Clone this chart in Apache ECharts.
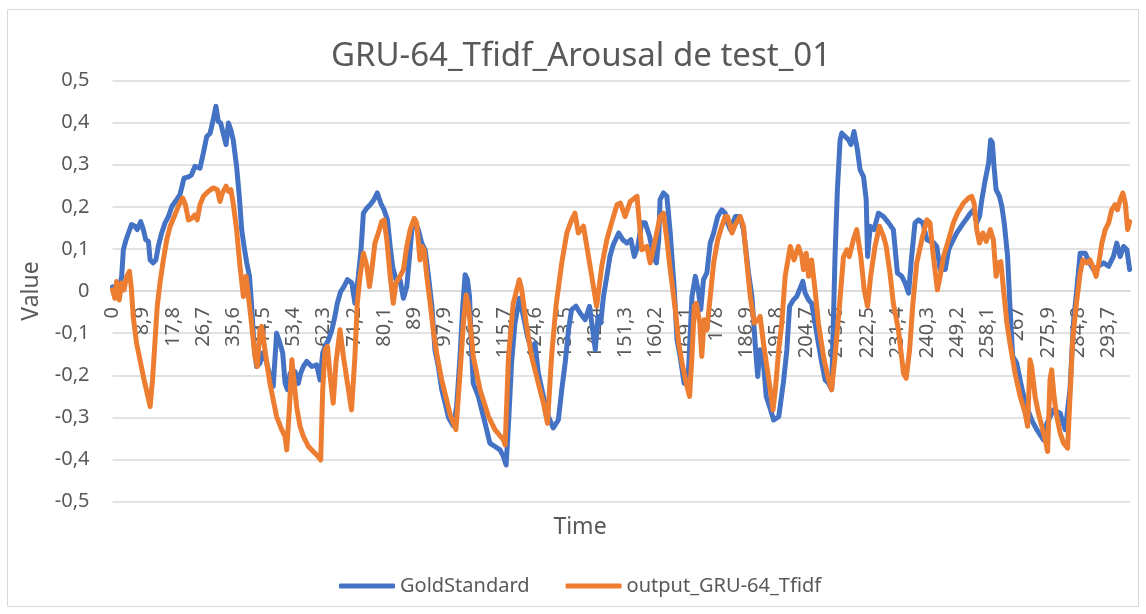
<!DOCTYPE html>
<html>
<head>
<meta charset="utf-8">
<script src="https://cdn.jsdelivr.net/npm/echarts/dist/echarts.min.js"></script>
<style>
html,body{margin:0;padding:0;background:#fff;}
#chart{width:1146px;height:614px;}
</style>
</head>
<body>
<div id="chart"></div>
<script>
// ---- data ----
var chartTitle = 'GRU-64_Tfidf_Arousal de test_01';
var seriesNames = ['GoldStandard', 'output_GRU-64_Tfidf'];

var goldTime = [0,1.0,2.2,2.7,3.2,4.0,4.7,5.6,6.6,7.3,8.3,9.1,9.8,10.6,11.1,12.0,12.8,13.5,14.5,15.5,16.5,17.5,18.9,19.9,21.1,22.4,23.3,24.3,25.8,26.8,27.8,28.8,29.7,30.5,31.2,31.9,32.9,33.5,34.2,34.9,35.6,36.6,37.4,38.1,38.8,39.6,40.4,41.0,41.7,42.5,43.5,44.3,45.0,46.5,47.4,48.4,49.4,50.2,50.9,51.6,52.4,53.8,54.8,55.5,56.3,57.3,58.8,60.2,61.2,62.0,62.7,63.7,64.7,65.6,66.3,67.3,68.3,69.3,70.6,71.5,72.5,73.3,74.0,75.0,76.0,77.1,78.1,79.1,80.1,81.1,81.9,82.6,83.6,84.8,85.8,86.8,87.6,88.3,89.2,90.2,91.2,92.2,93.2,94.2,95.1,96.1,97.1,98.1,99.1,100.5,101.5,102.5,103.3,104.0,104.7,105.3,105.9,106.4,107.9,109.9,111.3,112.8,114.3,115.3,116.1,116.8,117.7,118.7,120.0,121.2,122.4,123.6,124.6,125.6,127.1,128.6,130.0,131.5,132.5,133.5,134.5,135.4,136.7,137.9,139.4,140.7,141.6,142.4,143.2,144.0,144.8,145.8,146.7,147.7,149.3,150.5,151.7,152.9,153.9,154.9,156.1,157.1,158.4,159.6,160.4,161.1,161.5,162.5,163.5,164.5,165.7,166.5,167.4,168.6,169.9,170.9,171.9,172.9,173.5,174.3,175.3,176.3,177.3,178.5,179.7,180.7,181.4,182.2,183.7,185.1,186.1,187.6,188.6,189.6,190.3,191.0,192.0,192.8,193.8,195.0,196.5,197.9,198.9,199.7,200.8,201.8,202.6,203.6,204.3,205.3,206.2,207.2,208.2,209.2,210.2,211.2,212.1,212.6,213.1,213.8,214.6,215.1,216.1,217.1,217.8,218.7,219.7,220.5,221.5,222.3,222.7,223.5,224.6,225.9,227.4,228.9,230.3,231.5,232.8,233.8,234.8,235.7,236.7,237.7,239.0,240.2,242.3,243.1,244.1,245.6,246.6,247.5,249.0,251.0,252.0,253.0,254.0,254.9,255.7,256.4,257.4,258.4,259.0,259.5,260.0,260.6,261.6,262.3,263.0,264.0,264.7,265.5,266.7,267.9,269.2,271.1,272.6,274.6,275.6,277.5,279.5,281.0,282.4,283.4,284.4,285.4,286.9,288.2,289.3,290.8,292.3,293.8,295.2,296.2,297.2,298.2,299.2,300.0];
var goldValue = [0.010,0.000,0.011,0.035,0.098,0.122,0.138,0.158,0.154,0.146,0.165,0.146,0.122,0.118,0.074,0.067,0.074,0.106,0.138,0.162,0.177,0.201,0.217,0.229,0.268,0.271,0.276,0.296,0.292,0.328,0.367,0.375,0.407,0.439,0.403,0.399,0.367,0.348,0.399,0.383,0.359,0.296,0.225,0.146,0.106,0.067,0.035,-0.029,-0.124,-0.179,-0.171,-0.147,-0.155,-0.203,-0.226,-0.100,-0.124,-0.147,-0.219,-0.234,-0.195,-0.191,-0.219,-0.195,-0.179,-0.167,-0.179,-0.175,-0.211,-0.147,-0.131,-0.116,-0.092,-0.060,-0.029,-0.001,0.011,0.027,0.019,-0.029,0.035,0.098,0.185,0.197,0.205,0.217,0.233,0.209,0.193,0.169,0.106,0.059,0.027,0.027,-0.017,0.011,0.082,0.146,0.162,0.146,0.114,0.098,0.035,-0.036,-0.139,-0.179,-0.234,-0.266,-0.300,-0.320,-0.274,-0.155,-0.036,0.039,0.027,-0.013,-0.139,-0.219,-0.250,-0.314,-0.361,-0.369,-0.377,-0.393,-0.413,-0.314,-0.171,-0.076,-0.017,-0.060,-0.108,-0.139,-0.124,-0.195,-0.250,-0.298,-0.325,-0.306,-0.234,-0.171,-0.092,-0.044,-0.036,-0.052,-0.068,-0.036,-0.092,-0.139,-0.060,-0.076,-0.013,0.035,0.082,0.110,0.138,0.122,0.114,0.122,0.082,0.106,0.162,0.162,0.130,0.082,0.067,0.122,0.217,0.233,0.225,0.138,0.003,-0.116,-0.155,-0.219,-0.187,-0.013,0.035,-0.005,-0.044,0.027,0.043,0.114,0.138,0.177,0.193,0.185,0.162,0.146,0.177,0.177,0.146,0.043,-0.013,-0.131,-0.203,-0.139,-0.171,-0.250,-0.274,-0.306,-0.298,-0.215,-0.139,-0.036,-0.021,-0.013,0.003,0.023,-0.005,-0.021,-0.029,-0.076,-0.124,-0.171,-0.211,-0.219,-0.234,-0.076,0.082,0.241,0.359,0.375,0.367,0.359,0.348,0.379,0.336,0.288,0.272,0.217,0.082,0.154,0.146,0.185,0.177,0.162,0.146,0.043,0.035,0.019,-0.005,0.082,0.162,0.169,0.162,0.122,0.114,0.106,0.051,0.051,0.098,0.114,0.138,0.162,0.173,0.185,0.193,0.162,0.177,0.217,0.264,0.304,0.359,0.352,0.296,0.241,0.225,0.201,0.162,0.082,-0.036,-0.155,-0.171,-0.219,-0.266,-0.306,-0.329,-0.353,-0.314,-0.282,-0.290,-0.329,-0.234,-0.076,0.003,0.090,0.090,0.067,0.051,0.059,0.067,0.059,0.082,0.114,0.082,0.106,0.098,0.051];

var outTime = [0,0.7,1.2,2.0,2.7,3.4,4.2,5.0,5.6,6.1,7.1,8.1,9.1,10.1,11.1,11.8,12.5,13.2,14.0,15.0,16.0,17.0,18.0,19.4,20.7,21.5,22.4,23.4,24.3,25.0,25.8,26.8,28.3,29.7,30.9,31.7,32.4,33.5,34.2,34.9,35.6,36.6,37.6,38.6,39.4,40.1,41.0,42.0,42.7,43.5,44.0,44.7,45.5,46.5,47.4,48.4,49.9,50.9,51.4,52.2,52.9,53.5,54.3,55.3,56.3,57.8,59.2,60.7,61.4,62.0,62.7,63.4,64.2,65.1,65.9,67.1,68.1,69.3,70.5,71.5,72.2,73.0,74.0,75.0,75.8,76.5,77.4,78.4,79.4,80.1,80.9,81.9,82.8,83.6,84.8,85.8,86.8,87.8,89.0,89.7,90.7,91.2,91.9,92.7,93.7,94.6,95.6,97.1,98.6,99.6,101.3,102.5,103.5,104.3,105.0,106.4,108.4,110.9,112.8,115.3,115.8,116.8,118.2,120.0,120.7,122.0,123.6,125.6,127.1,128.3,129.5,130.8,132.5,134.0,135.4,136.4,137.4,138.9,140.4,142.0,142.8,144.3,145.8,147.2,148.8,149.8,151.2,152.7,154.7,156.1,157.6,158.6,160.1,161.5,162.5,163.5,164.5,166.0,167.0,168.0,169.2,170.2,170.9,171.6,172.2,173.2,173.8,174.5,175.3,176.3,177.3,178.5,179.7,180.7,181.4,182.7,183.7,185.1,186.1,187.1,188.1,189.3,190.3,191.0,192.0,193.0,194.0,194.8,195.5,196.5,197.4,198.4,199.9,201.0,202.3,203.3,203.8,204.6,205.3,206.2,207.2,208.2,209.7,211.2,212.1,213.1,214.4,215.6,216.6,217.3,218.5,219.5,220.7,221.7,222.7,223.6,224.9,226.2,227.4,228.2,229.3,230.3,231.8,233.3,234.1,235.1,236.0,237.2,238.7,240.2,241.1,242.1,243.3,244.1,245.1,246.6,248.0,249.2,251.0,252.5,253.4,254.1,254.9,255.7,256.7,257.7,258.9,259.8,260.6,261.3,262.0,262.8,263.8,264.7,266.2,267.7,269.2,269.9,270.6,271.1,272.1,273.1,274.1,275.1,275.8,276.5,277.0,277.7,278.5,279.5,280.5,281.7,282.5,283.2,284.2,285.4,286.2,287.4,288.3,289.1,290.1,290.9,291.8,292.8,293.8,294.7,295.7,296.4,297.2,298.0,298.7,299.4,300.0];
var outValue = [0.003,-0.017,0.023,-0.021,0.019,0.003,0.035,0.047,0.003,-0.060,-0.124,-0.163,-0.203,-0.238,-0.274,-0.211,-0.124,-0.036,0.019,0.074,0.122,0.154,0.173,0.201,0.221,0.205,0.169,0.173,0.181,0.169,0.205,0.225,0.237,0.245,0.241,0.213,0.233,0.249,0.237,0.241,0.209,0.146,0.059,-0.013,0.035,-0.013,-0.076,-0.155,-0.179,-0.092,-0.084,-0.124,-0.171,-0.222,-0.258,-0.298,-0.329,-0.345,-0.377,-0.274,-0.163,-0.211,-0.274,-0.321,-0.345,-0.369,-0.381,-0.393,-0.401,-0.234,-0.139,-0.131,-0.203,-0.266,-0.171,-0.092,-0.155,-0.219,-0.282,-0.155,-0.029,0.035,0.090,0.059,0.011,0.051,0.114,0.138,0.165,0.169,0.122,0.035,-0.029,0.019,0.035,0.051,0.106,0.146,0.173,0.162,0.074,0.106,0.098,0.035,-0.029,-0.092,-0.147,-0.211,-0.260,-0.294,-0.329,-0.195,-0.076,-0.009,-0.036,-0.155,-0.234,-0.298,-0.329,-0.353,-0.365,-0.155,-0.029,0.027,0.003,-0.076,-0.155,-0.219,-0.266,-0.314,-0.155,-0.036,0.067,0.138,0.169,0.185,0.138,0.154,0.082,0.003,-0.036,0.059,0.122,0.162,0.205,0.209,0.177,0.213,0.225,0.098,0.106,0.067,0.122,0.177,0.185,0.122,0.051,-0.044,-0.124,-0.171,-0.219,-0.250,-0.155,-0.036,-0.029,-0.076,-0.155,-0.068,-0.092,-0.013,0.067,0.122,0.154,0.177,0.177,0.138,0.158,0.177,0.154,0.067,-0.013,-0.076,-0.068,-0.060,-0.124,-0.179,-0.234,-0.282,-0.234,-0.139,-0.076,0.035,0.106,0.074,0.106,0.082,0.051,0.090,0.035,0.074,0.003,-0.076,-0.155,-0.211,-0.234,-0.155,-0.036,0.082,0.098,0.082,0.122,0.146,0.082,0.003,-0.036,0.035,0.106,0.154,0.130,0.106,0.043,-0.029,-0.092,-0.195,-0.207,-0.139,-0.036,0.067,0.122,0.169,0.162,0.082,0.003,0.035,0.082,0.122,0.162,0.185,0.209,0.221,0.225,0.209,0.146,0.114,0.138,0.118,0.146,0.122,0.035,0.067,0.070,0.003,-0.076,-0.124,-0.195,-0.250,-0.290,-0.321,-0.163,-0.179,-0.250,-0.290,-0.321,-0.353,-0.381,-0.211,-0.187,-0.250,-0.298,-0.337,-0.361,-0.373,-0.234,-0.116,-0.036,0.043,0.074,0.067,0.074,0.059,0.035,0.067,0.114,0.146,0.162,0.193,0.205,0.193,0.217,0.233,0.209,0.146,0.165];

var xMin = 0, xMax = 300.1, xStep = 8.9;
var yMin = -0.5, yMax = 0.5, yStep = 0.1;

// ---- chart ----
var FONT = '"Noto Sans", "Open Sans", sans-serif';
var TXT = '#595959';
var gridTop = 80.5, gridBottom = 112.3, chartH = 614;
var plotH = chartH - gridTop - gridBottom;
// the category axis crosses the value axis at 0 (Excel style)
var zeroOffset = -plotH * (0 - yMin) / (yMax - yMin);

function pairs(ts, vs) { return ts.map(function (t, i) { return [t, vs[i]]; }); }
function comma(v) {
  var r = Math.round(v * 10) / 10;
  if (Math.abs(r) < 1e-9) return '0';
  return String(r).replace('.', ',');
}

var chart = echarts.init(document.getElementById('chart'), null, { renderer: 'canvas' });
chart.setOption({
  animation: false,
  backgroundColor: '#ffffff',
  grid: { left: 112.5, right: 16, top: gridTop, bottom: gridBottom, containLabel: false },
  xAxis: {
    type: 'value', min: xMin, max: xMax, interval: xStep,
    position: 'bottom', offset: zeroOffset,
    axisLine: { show: true, onZero: false, lineStyle: { color: '#D9D9D9', width: 1.5 } },
    axisTick: { show: false },
    splitLine: { show: false },
    axisLabel: {
      rotate: 90, margin: 16, fontSize: 20, color: TXT, fontFamily: FONT,
      showMaxLabel: false, showMinLabel: true,
      formatter: function (v) { if (v > xMax - 1) return ''; return comma(v); }
    }
  },
  yAxis: {
    type: 'value', min: yMin, max: yMax, interval: yStep,
    axisLine: { show: false }, axisTick: { show: false },
    splitLine: { show: true, lineStyle: { color: '#D9D9D9', width: 1.5 } },
    axisLabel: { margin: 23, fontSize: 20, color: TXT, fontFamily: FONT, formatter: comma }
  },
  legend: {
    left: 334, top: 571, itemWidth: 56, itemHeight: 5, itemGap: 36, icon: 'roundRect',
    textStyle: { fontSize: 20, color: TXT, fontFamily: FONT },
    data: seriesNames
  },
  series: [
    { name: seriesNames[0], type: 'line', data: pairs(goldTime, goldValue), showSymbol: false, symbol: 'none',
      color: '#4472C4', lineStyle: { color: '#4472C4', width: 5, join: 'round', cap: 'round' } },
    { name: seriesNames[1], type: 'line', data: pairs(outTime, outValue), showSymbol: false, symbol: 'none',
      color: '#ED7D31', lineStyle: { color: '#ED7D31', width: 5, join: 'round', cap: 'round' } }
  ],
  graphic: [
    { type: 'rect', silent: true, z: -10, shape: { x: 7.5, y: 9.5, width: 1131, height: 597 },
      style: { fill: 'none', stroke: '#D9D9D9', lineWidth: 1 } },
    { type: 'text', silent: true, x: 581, y: 57,
      style: { text: chartTitle, font: '33px ' + FONT, fill: TXT, align: 'center', verticalAlign: 'middle' } },
    { type: 'text', silent: true, x: 580, y: 527,
      style: { text: 'Time', font: '23px ' + FONT, fill: TXT, align: 'center', verticalAlign: 'middle' } },
    { type: 'text', silent: true, x: 31, y: 291, rotation: Math.PI / 2,
      style: { text: 'Value', font: '23px ' + FONT, fill: TXT, align: 'center', verticalAlign: 'middle' } }
  ]
});
</script>
</body>
</html>
